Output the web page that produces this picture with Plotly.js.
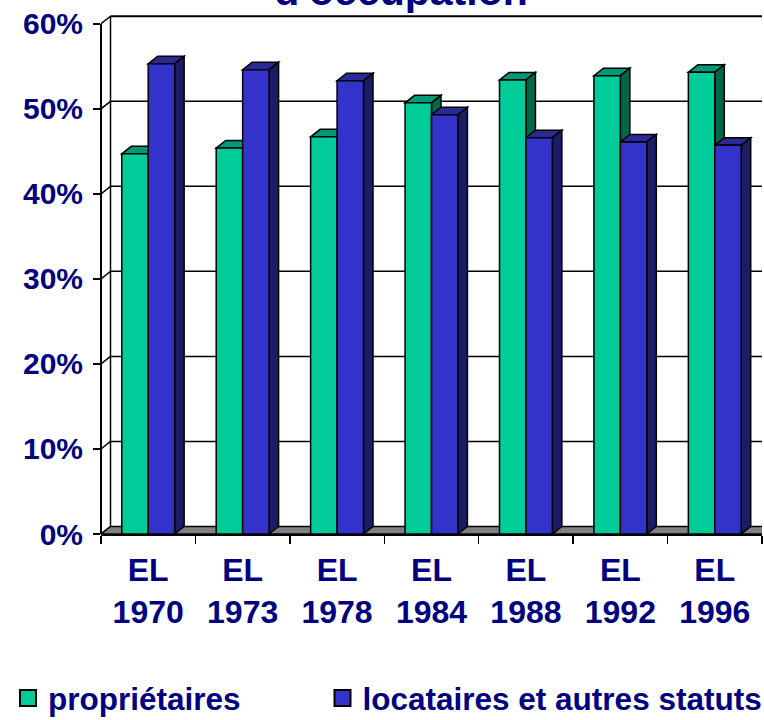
<!DOCTYPE html>
<html>
<head>
<meta charset="utf-8">
<script src="https://cdn.plot.ly/plotly-3.0.1.min.js"></script>
<style>
  html, body { margin: 0; padding: 0; background: #ffffff; }
  #chart { width: 764px; height: 720px; }
</style>
</head>
<body>
<div id="chart"></div>
<script>
// ---- data ----
const categories = ['EL<br>1970', 'EL<br>1973', 'EL<br>1978', 'EL<br>1984', 'EL<br>1988', 'EL<br>1992', 'EL<br>1996'];
const proprietaires = [44.7, 45.4, 46.7, 50.7, 53.4, 53.9, 54.3];
const locataires = [55.3, 54.6, 53.3, 49.3, 46.6, 46.1, 45.7];
const seriesNames = ['propriétaires', 'locataires et autres statuts'];
const yTickValues = [0, 10, 20, 30, 40, 50, 60];
const yTickLabels = ['0%', '10%', '20%', '30%', '40%', '50%', '60%'];
const titleText = "d'occupation";

// ---- style / geometry ----
const W = 764, H = 720;
const M = { l: 101, r: 2, t: 11.25, b: 186 };
const Y_MAX = 61.5;
const plotW = W - M.l - M.r, plotH = H - M.t - M.b;
const pxPerCat = plotW / categories.length;
const pxPerUnit = plotH / Y_MAX;
const DX = 9.5 / pxPerCat;   // depth (category units)
const DY = 7.5 / pxPerUnit;  // depth (value units)
const BW = 0.28;             // bar width in category units
const NAVY = '#000080';
const FONT = 'Liberation Sans, Arial, sans-serif';
const colors = {
  green: { front: '#00CC99', top: '#009977', side: '#006648' },
  blue:  { front: '#3333CC', top: '#2A2A94', side: '#1C1C66' }
};

const shapes = [];
const L = -0.5, R = categories.length - 0.5;
// back wall gridlines
yTickValues.forEach(v => {
  if (v === 0) return;
  shapes.push({ type: 'line', layer: 'below', xref: 'x', yref: 'y',
    x0: L + DX, x1: R + 1, y0: v + DY, y1: v + DY,
    line: { color: '#000000', width: v === 60 ? 2 : 1.5 } });
});
// left wall: vertical back edge and diagonals
shapes.push({ type: 'line', layer: 'below', xref: 'x', yref: 'y',
  x0: L + DX, x1: L + DX, y0: DY, y1: 60 + DY, line: { color: '#000000', width: 1.5 } });
yTickValues.forEach(v => {
  shapes.push({ type: 'line', layer: 'below', xref: 'x', yref: 'y',
    x0: L, x1: L + DX, y0: v, y1: v + DY, line: { color: '#000000', width: 1.5 } });
});
// floor
shapes.push({ type: 'path', layer: 'below', xref: 'x', yref: 'y',
  path: `M${L},0 L${R + 1},0 L${R + 1 + DX},${DY} L${L + DX},${DY} Z`,
  fillcolor: '#808080', line: { color: '#000000', width: 1.5 } });

function faces(xLeft, v, c) {
  const xRight = xLeft + BW;
  // top face
  shapes.push({ type: 'path', layer: 'below', xref: 'x', yref: 'y',
    path: `M${xLeft},${v} L${xRight},${v} L${xRight + DX},${v + DY} L${xLeft + DX},${v + DY} Z`,
    fillcolor: c.top, line: { color: '#000000', width: 1.5 } });
  // side face
  shapes.push({ type: 'path', layer: 'below', xref: 'x', yref: 'y',
    path: `M${xRight},0 L${xRight + DX},${DY} L${xRight + DX},${v + DY} L${xRight},${v} Z`,
    fillcolor: c.side, line: { color: '#000000', width: 1.5 } });
}
categories.forEach((c, i) => {
  faces(i - BW, proprietaires[i], colors.green);
  faces(i, locataires[i], colors.blue);
});
// front y-axis line
shapes.push({ type: 'line', layer: 'above', xref: 'paper', yref: 'y',
  x0: 0, x1: 0, y0: 0, y1: 60, line: { color: '#000000', width: 2 } });

const traces = [
  { type: 'bar', x: categories, y: proprietaires, name: seriesNames[0],
    offset: -BW, width: BW, showlegend: false, hoverinfo: 'skip',
    marker: { color: colors.green.front, line: { color: '#000000', width: 1.5 } } },
  { type: 'bar', x: categories, y: locataires, name: seriesNames[1],
    offset: 0, width: BW, showlegend: false, hoverinfo: 'skip',
    marker: { color: colors.blue.front, line: { color: '#000000', width: 1.5 } } },
  // legend entries
  { type: 'scatter', mode: 'markers', x: [null], y: [null], name: seriesNames[0], legend: 'legend',
    marker: { symbol: 'square', size: 16, color: colors.green.front, line: { color: '#000000', width: 2 } } },
  { type: 'scatter', mode: 'markers', x: [null], y: [null], name: seriesNames[1], legend: 'legend2',
    marker: { symbol: 'square', size: 16, color: colors.blue.front, line: { color: '#000000', width: 2 } } }
];

const legendFont = { family: FONT, size: 31.5, color: NAVY, weight: 'bold' };
const layout = {
  width: W, height: H,
  margin: M,
  paper_bgcolor: '#ffffff', plot_bgcolor: '#ffffff',
  barmode: 'overlay',
  title: { text: titleText, font: { family: FONT, size: 41, color: NAVY, weight: 'bold' },
    x: 401 / W, xanchor: 'center', xref: 'container', yref: 'container', y: 1 - 5 / H, yanchor: 'bottom',
    pad: { t: 0, b: 0, l: 0, r: 0 } },
  xaxis: {
    type: 'category', range: [L, R], fixedrange: true,
    showline: true, linecolor: '#000000', linewidth: 2,
    ticks: 'outside', tickson: 'boundaries', ticklen: 8, tickwidth: 1.5, tickcolor: '#000000',
    ticklabelstandoff: 7,
    tickfont: { family: FONT, size: 32, color: NAVY, weight: 'bold' },
    showgrid: false, zeroline: false
  },
  yaxis: {
    range: [0, Y_MAX], fixedrange: true,
    tickmode: 'array', tickvals: yTickValues, ticktext: yTickLabels,
    showline: false, ticks: 'outside', ticklen: 7, tickwidth: 1.5, tickcolor: '#000000',
    ticklabelstandoff: 4,
    tickfont: { family: FONT, size: 30, color: NAVY, weight: 'bold' },
    showgrid: false, zeroline: false
  },
  legend: { orientation: 'h', xref: 'container', yref: 'container', x: 8 / W, xanchor: 'left',
    y: 1 - 698 / H, yanchor: 'middle', bgcolor: 'rgba(0,0,0,0)', font: legendFont },
  legend2: { orientation: 'h', xref: 'container', yref: 'container', x: 322.5 / W, xanchor: 'left',
    y: 1 - 698 / H, yanchor: 'middle', bgcolor: 'rgba(0,0,0,0)', font: legendFont },
  shapes: shapes
};

Plotly.newPlot('chart', traces, layout, { displayModeBar: false, staticPlot: true });
</script>
</body>
</html>
